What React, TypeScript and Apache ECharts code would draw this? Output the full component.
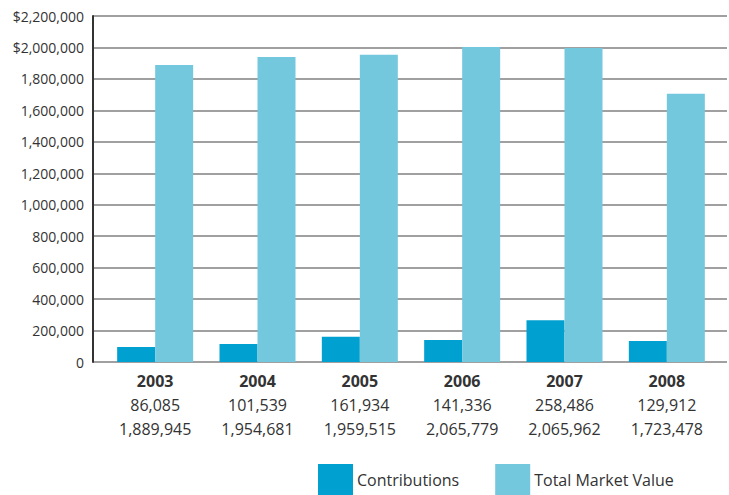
import React, { useEffect, useRef } from "react";
import * as echarts from "echarts";

const years = ["2003", "2004", "2005", "2006", "2007", "2008"];
const contributionLabels = ["86,085", "101,539", "161,934", "141,336", "258,486", "129,912"];
const totalLabels = ["1,889,945", "1,954,681", "1,959,515", "2,065,779", "2,065,962", "1,723,478"];
// bar heights as drawn in the reference
const contributions = [95000, 114000, 160000, 140000, 266000, 133000];
const totalMarketValue = [1888000, 1940000, 1953000, 2003000, 1997000, 1705000];
const yTicks = [0, 200000, 400000, 600000, 800000, 1000000, 1200000, 1400000, 1600000, 1800000, 2000000, 2200000];

const FONT = "'Open Sans', 'Noto Sans', sans-serif";
const TXT = "#333333";

export default function App() {
  const ref = useRef<HTMLDivElement>(null);
  useEffect(() => {
    if (!ref.current) return;
    const chart = echarts.init(ref.current, null, { renderer: "svg" });
    const fmt = (v: number) => {
      const s = v.toLocaleString("en-US");
      return v >= 2000000 ? "$" + s : s;
    };
    chart.setOption({
      animation: false,
      grid: [
        { left: 93, top: 16, width: 634, height: 346 },
        { left: 104, top: 16, width: 614, height: 346 },
      ],
      legend: {
        bottom: -5,
        left: 313,
        itemWidth: 35,
        itemHeight: 31,
        itemGap: 36,
        icon: "rect",
        textStyle: { fontFamily: FONT, fontSize: 16, color: TXT, padding: [0, 0, 0, -1] },
        data: ["Contributions", "Total Market Value"],
      },
      xAxis: [
        { type: "category", gridIndex: 0, data: years, show: false },
        {
          type: "category",
          gridIndex: 1,
          data: years,
          axisLine: { show: false },
          axisTick: { show: false },
          axisLabel: {
            margin: 7,
            interval: 0,
            formatter: (val: string, idx: number) =>
              `{y|${val}}\n{v|${contributionLabels[idx]}}\n{v|${totalLabels[idx]}}`,
            rich: {
              y: { fontFamily: FONT, fontSize: 16, fontWeight: "bold", color: TXT, lineHeight: 24 },
              v: { fontFamily: FONT, fontSize: 16, color: TXT, lineHeight: 24 },
            },
          },
        },
      ],
      yAxis: [
        {
          type: "value",
          gridIndex: 0,
          min: 0,
          max: 2200000,
          interval: 200000,
          axisLine: { show: true, lineStyle: { color: "#333333", width: 2 } },
          axisTick: { show: false },
          splitLine: { lineStyle: { color: "#a0a0a0", width: 2 } },
          axisLabel: {
            margin: 9,
            fontFamily: FONT,
            fontSize: 14,
            color: TXT,
            formatter: (v: number) => fmt(v),
            customValues: yTicks,
          },
        },
        { type: "value", gridIndex: 1, min: 0, max: 2200000, interval: 200000, show: false },
      ],
      series: [
        {
          name: "Contributions",
          type: "bar",
          xAxisIndex: 1,
          yAxisIndex: 1,
          data: contributions,
          itemStyle: { color: "#00a0d1" },
          barWidth: 38,
          barGap: "0%",
        },
        {
          name: "Total Market Value",
          type: "bar",
          xAxisIndex: 1,
          yAxisIndex: 1,
          data: totalMarketValue,
          itemStyle: { color: "#74c8dd" },
          barWidth: 38,
          barGap: "0%",
        },
      ],
    });
    return () => chart.dispose();
  }, []);
  return <div ref={ref} style={{ width: 729, height: 495, position: "absolute", left: 0, top: 0 }} />;
}
